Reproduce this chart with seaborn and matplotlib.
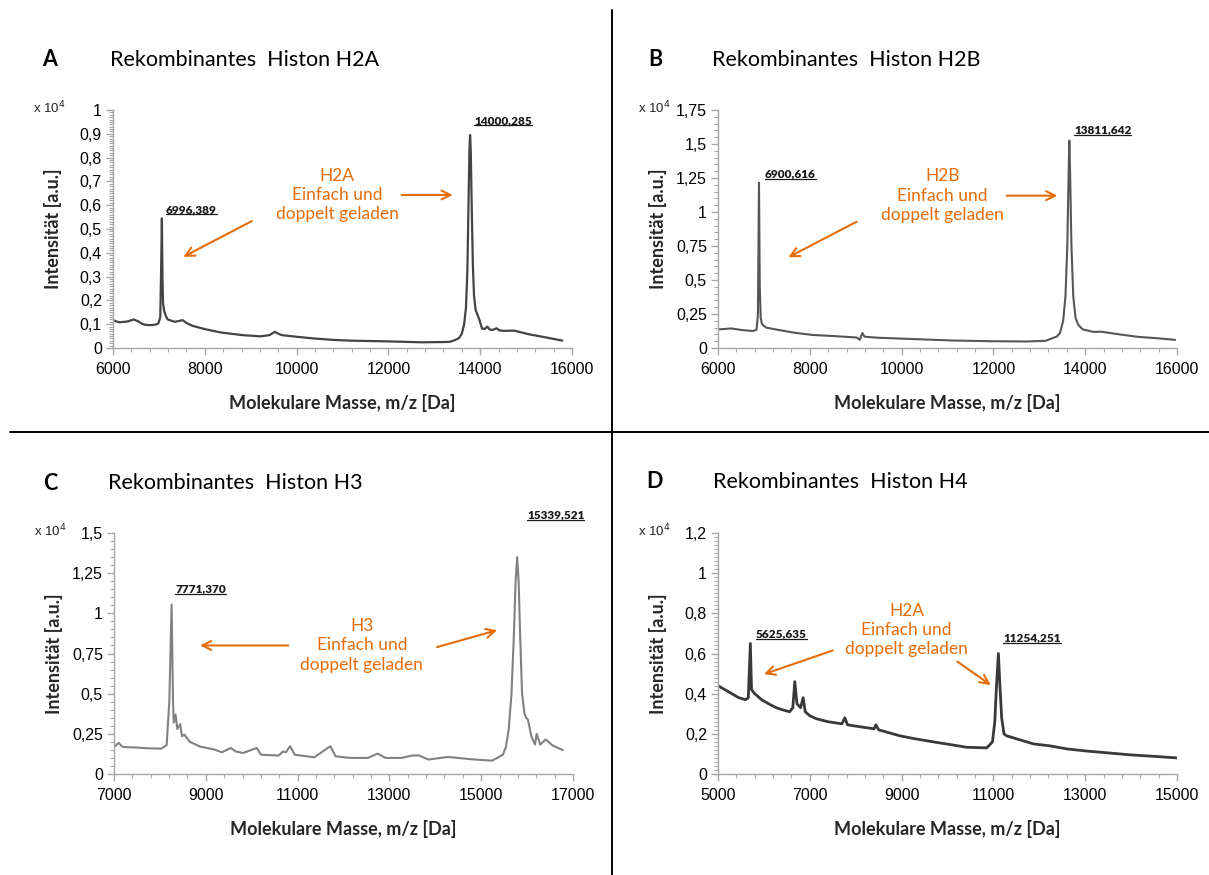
import matplotlib
matplotlib.use("Agg")
import matplotlib.pyplot as plt
import seaborn as sns
import pandas as pd
from matplotlib.ticker import AutoMinorLocator
from matplotlib.lines import Line2D

# ---------------- data (intensity in units of 10^4) ----------------
mz_A = [6000, 6130, 6257, 6350, 6451, 6550, 6650, 6724, 6850, 6960, 6990, 7030, 7050, 7065, 7078, 7090,
        7110, 7140, 7190, 7346, 7517, 7600, 7735, 8008, 8358, 8825, 9214, 9409, 9525, 9600, 9681, 10008,
        10381, 10800, 11160, 11938, 12716, 13200, 13339, 13450, 13540, 13600, 13650, 13690, 13720, 13745,
        13765, 13780, 13795, 13815, 13840, 13865, 13900, 13940, 13980, 14039, 14100, 14156, 14210, 14276,
        14354, 14420, 14510, 14743, 15054, 15443, 15790]
int_A = [0.117, 0.108, 0.110, 0.113, 0.120, 0.112, 0.100, 0.097, 0.096, 0.100, 0.104, 0.130, 0.350, 0.545,
         0.300, 0.190, 0.160, 0.140, 0.120, 0.110, 0.117, 0.105, 0.093, 0.079, 0.065, 0.054, 0.049, 0.054,
         0.068, 0.060, 0.054, 0.047, 0.040, 0.034, 0.031, 0.028, 0.024, 0.025, 0.026, 0.033, 0.042, 0.060,
         0.100, 0.170, 0.320, 0.600, 0.830, 0.895, 0.820, 0.600, 0.350, 0.220, 0.160, 0.140, 0.120, 0.082,
         0.080, 0.090, 0.077, 0.076, 0.083, 0.074, 0.072, 0.073, 0.058, 0.044, 0.031]

mz_B = [6000, 6150, 6282, 6400, 6524, 6650, 6766, 6840, 6870, 6893, 6910, 6930, 6960, 7048, 7250, 7450,
        7653, 8056, 8400, 8702, 9024, 9089, 9145, 9190, 9226, 9508, 10314, 11121, 11927, 12734, 13137,
        13379, 13450, 13520, 13570, 13610, 13640, 13654, 13670, 13700, 13740, 13790, 13850, 13944, 14186,
        14347, 14750, 15153, 15556, 15960]
int_B = [0.137, 0.140, 0.144, 0.138, 0.132, 0.128, 0.125, 0.135, 0.250, 1.215, 0.450, 0.220, 0.175, 0.150,
         0.137, 0.125, 0.113, 0.096, 0.090, 0.084, 0.077, 0.060, 0.110, 0.085, 0.082, 0.075, 0.065, 0.055,
         0.050, 0.048, 0.053, 0.084, 0.110, 0.200, 0.380, 0.750, 1.300, 1.525, 1.300, 0.750, 0.380, 0.220,
         0.170, 0.137, 0.118, 0.120, 0.100, 0.082, 0.072, 0.060]

mz_C = [7023, 7101, 7180, 7256, 7488, 7721, 8031, 8147, 8205, 8255, 8285, 8302, 8341, 8380, 8442, 8481,
        8535, 8651, 8884, 9194, 9349, 9543, 9650, 9814, 10109, 10202, 10589, 10682, 10744, 10837, 10938,
        11364, 11713, 11829, 12140, 12527, 12744, 12915, 13264, 13496, 13651, 13845, 14271, 14853, 15240,
        15473, 15540, 15600, 15660, 15710, 15750, 15783, 15815, 15850, 15890, 15940, 15977, 16016, 16093,
        16171, 16209, 16287, 16403, 16558, 16752, 16780]
int_C = [0.173, 0.194, 0.170, 0.167, 0.165, 0.160, 0.158, 0.180, 0.450, 1.055, 0.460, 0.320, 0.370, 0.280,
         0.310, 0.235, 0.245, 0.200, 0.170, 0.152, 0.135, 0.162, 0.140, 0.131, 0.162, 0.120, 0.115, 0.140,
         0.135, 0.173, 0.120, 0.104, 0.173, 0.110, 0.100, 0.100, 0.127, 0.100, 0.100, 0.115, 0.115, 0.090,
         0.106, 0.090, 0.083, 0.120, 0.170, 0.280, 0.500, 0.850, 1.200, 1.350, 1.200, 0.850, 0.500, 0.380,
         0.350, 0.340, 0.235, 0.183, 0.250, 0.183, 0.215, 0.177, 0.152, 0.150]

mz_D = [5000, 5150, 5300, 5450, 5600, 5660, 5705, 5730, 5800, 5950, 6100, 6270, 6400, 6560, 6630, 6673,
        6720, 6800, 6855, 6900, 7000, 7145, 7400, 7700, 7764, 7820, 8100, 8400, 8440, 8500, 8964, 9300,
        9690, 10100, 10418, 10855, 10980, 11030, 11070, 11109, 11140, 11180, 11230, 11290, 11870, 12236,
        12600, 13000, 13500, 14000, 14500, 15000]
int_D = [0.440, 0.420, 0.400, 0.380, 0.370, 0.380, 0.650, 0.420, 0.400, 0.370, 0.350, 0.330, 0.320, 0.310,
         0.330, 0.460, 0.350, 0.330, 0.380, 0.310, 0.290, 0.275, 0.260, 0.250, 0.280, 0.245, 0.235, 0.225,
         0.245, 0.220, 0.190, 0.175, 0.160, 0.145, 0.133, 0.130, 0.160, 0.260, 0.450, 0.600, 0.450, 0.280,
         0.200, 0.190, 0.150, 0.140, 0.125, 0.115, 0.105, 0.095, 0.088, 0.080]

panel_letters = ["A", "B", "C", "D"]
panel_titles = ["Rekombinantes  Histon H2A", "Rekombinantes  Histon H2B",
                "Rekombinantes  Histon H3", "Rekombinantes  Histon H4"]
ann_texts = ["H2A\nEinfach und\ndoppelt geladen", "H2B\nEinfach und\ndoppelt geladen",
             "H3\nEinfach und\ndoppelt geladen", "H2A\nEinfach und\ndoppelt geladen"]

xticks_A = [6000, 8000, 10000, 12000, 14000, 16000]
xticks_B = [6000, 8000, 10000, 12000, 14000, 16000]
xticks_C = [7000, 9000, 11000, 13000, 15000, 17000]
xticks_D = [5000, 7000, 9000, 11000, 13000, 15000]

yticks_A = [0, 0.1, 0.2, 0.3, 0.4, 0.5, 0.6, 0.7, 0.8, 0.9, 1.0]
ylabels_A = ["0", "0,1", "0,2", "0,3", "0,4", "0,5", "0,6", "0,7", "0,8", "0,9", "1"]
yticks_B = [0, 0.25, 0.5, 0.75, 1.0, 1.25, 1.5, 1.75]
ylabels_B = ["0", "0,25", "0,5", "0,75", "1", "1,25", "1,5", "1,75"]
yticks_C = [0, 0.25, 0.5, 0.75, 1.0, 1.25, 1.5]
ylabels_C = ["0", "0,25", "0,5", "0,75", "1", "1,25", "1,5"]
yticks_D = [0, 0.2, 0.4, 0.6, 0.8, 1.0, 1.2]
ylabels_D = ["0", "0,2", "0,4", "0,6", "0,8", "1", "1,2"]

peak_labels_A = ["6996,389", "14000,285"]
peak_labels_B = ["6900,616", "13811,642"]
peak_labels_C = ["7771,370", "15339,521"]
peak_labels_D = ["5625,635", "11254,251"]

# ---------------- layout / style ----------------
W, H = 1209, 875
ORANGE = "#E46C0A"
AXCOL = "#A6A6A6"

panels = [
    dict(mz=mz_A, inten=int_A, xticks=xticks_A, yticks=yticks_A, ylabels=ylabels_A, peaks=peak_labels_A,
         rect=(113, 110, 572, 348), xlim=(6000, 16000), ylim=(0, 1.0), yminor=10, color="#3a3a3a", lw=1.6,
         peak_pos=[(7155, 0.582), (13865, 0.954)], text_pos=(10880, 0.643),
         arrows=[((9022, 0.533), (7532, 0.383)), ((12290, 0.643), (13401, 0.643))],
         title_px=(50, 110, 60)),
    dict(mz=mz_B, inten=int_B, xticks=xticks_B, yticks=yticks_B, ylabels=ylabels_B, peaks=peak_labels_B,
         rect=(718, 110, 1177, 348), xlim=(6000, 16000), ylim=(0, 1.75), yminor=5, color="#4d4d4d", lw=1.5,
         peak_pos=[(7024, 1.277), (13756, 1.60)], text_pos=(10887, 1.12),
         arrows=[((9022, 0.929), (7533, 0.667)), ((12290, 1.12), (13393, 1.12))],
         title_px=(655, 712, 60)),
    dict(mz=mz_C, inten=int_C, xticks=xticks_C, yticks=yticks_C, ylabels=ylabels_C, peaks=peak_labels_C,
         rect=(114, 533, 573, 774), xlim=(7000, 17000), ylim=(0, 1.5), yminor=5, color="#7a7a7a", lw=1.5,
         peak_pos=[(8329, 1.151), (16000, 1.61)], text_pos=(12400, 0.80),
         arrows=[((10797, 0.80), (8874, 0.80)), ((14038, 0.79), (15347, 0.895))],
         title_px=(50, 108, 483)),
    dict(mz=mz_D, inten=int_D, xticks=xticks_D, yticks=yticks_D, ylabels=ylabels_D, peaks=peak_labels_D,
         rect=(718, 533, 1177, 774), xlim=(5000, 15000), ylim=(0, 1.2), yminor=10, color="#2e2e2e", lw=2.0,
         peak_pos=[(5828, 0.697), (11216, 0.677)], text_pos=(9111, 0.718),
         arrows=[((7499, 0.615), (6002, 0.497)), ((10214, 0.56), (10941, 0.443))],
         title_px=(655, 713, 482)),
]

sns.set_theme(style="white")
plt.rcParams['font.family'] = ['Liberation Sans', 'DejaVu Sans']

fig = plt.figure(figsize=(W / 100, H / 100), dpi=100)
fig.patch.set_facecolor("white")

underline_texts = []
for i, p in enumerate(panels):
    l, t, r, b = p["rect"]
    ax = fig.add_axes([l / W, 1 - b / H, (r - l) / W, (b - t) / H])
    ax.set_facecolor("white")
    df = pd.DataFrame({"mz": p["mz"], "I": p["inten"]})
    sns.lineplot(data=df, x="mz", y="I", ax=ax, color=p["color"], lw=p["lw"],
                 estimator=None, sort=False, alpha=0.95)
    ax.set_xlim(*p["xlim"])
    ax.set_ylim(*p["ylim"])
    ax.set_xticks(p["xticks"])
    ax.set_xticklabels([str(v) for v in p["xticks"]])
    ax.set_yticks(p["yticks"])
    ax.set_yticklabels(p["ylabels"])
    ax.xaxis.set_minor_locator(AutoMinorLocator(5))
    ax.yaxis.set_minor_locator(AutoMinorLocator(p["yminor"]))
    for s in ["top", "right"]:
        ax.spines[s].set_visible(False)
    for s in ["left", "bottom"]:
        ax.spines[s].set_color(AXCOL)
        ax.spines[s].set_linewidth(1.0)
    ax.tick_params(which="major", bottom=True, left=True, direction="out", length=5, width=1.0,
                   color=AXCOL, labelsize=11.5, labelcolor="black", pad=3)
    ax.tick_params(which="minor", bottom=True, left=True, direction="out", length=3, width=0.8,
                   color=AXCOL)
    ax.tick_params(axis="x", which="major", pad=5)
    ax.set_xlabel("Molekulare Masse, m/z [Da]", fontfamily="Lato", fontweight="bold", fontsize=13)
    ax.set_ylabel("Intensität [a.u.]", fontfamily="Lato", fontweight="bold", fontsize=13)
    hpx, wpx = b - t, r - l
    ax.xaxis.set_label_coords(0.5, -55 / hpx)
    ax.xaxis.label.set_va("center")
    ax.yaxis.set_label_coords(-60 / wpx, 0.5)
    ax.yaxis.label.set_va("center")

    # x 10^4 label
    fig.text((l - 64) / W, 1 - (t - 2) / H, r"x 10$^4$", ha="center", va="center", fontsize=9.5,
             color="#222222")

    # titles
    lx, tx, ty = p["title_px"]
    fig.text(lx / W, 1 - ty / H, panel_letters[i], fontfamily="Lato", fontweight="bold", fontsize=15.5,
             ha="center", va="center", color="black")
    fig.text(tx / W, 1 - ty / H, panel_titles[i], fontfamily="Lato", fontsize=15.5,
             ha="left", va="center", color="black")

    # peak labels
    for lab, (px_, py_) in zip(p["peaks"], p["peak_pos"]):
        tt = ax.text(px_, py_, lab, fontfamily="Lato", fontweight="heavy", fontsize=8.5,
                     ha="left", va="center", color="#1a1a1a", clip_on=False)
        underline_texts.append(tt)

    # orange annotation
    ax.text(p["text_pos"][0], p["text_pos"][1], ann_texts[i], fontfamily="Lato", fontsize=12.5,
            ha="center", va="center", color=ORANGE, linespacing=1.25)
    for tail, head in p["arrows"]:
        ax.annotate("", xy=head, xytext=tail,
                    arrowprops=dict(arrowstyle="->", color=ORANGE, lw=1.5, mutation_scale=16,
                                    shrinkA=0, shrinkB=0))

# divider lines
fig.add_artist(Line2D([612 / W, 612 / W], [0, 1 - 10 / H], transform=fig.transFigure,
                      color="black", lw=1.4))
fig.add_artist(Line2D([10 / W, 1], [1 - 432 / H, 1 - 432 / H], transform=fig.transFigure,
                      color="black", lw=1.4))

# underline peak labels
fig.canvas.draw()
renderer = fig.canvas.get_renderer()
for tt in underline_texts:
    bb = tt.get_window_extent(renderer=renderer)
    yy = bb.y0 + 1.0
    fig.add_artist(Line2D([bb.x0 / W, bb.x1 / W], [yy / H, yy / H], transform=fig.transFigure,
                          color="#1a1a1a", lw=0.9))

fig.savefig("out.png", dpi=100, facecolor="white")
